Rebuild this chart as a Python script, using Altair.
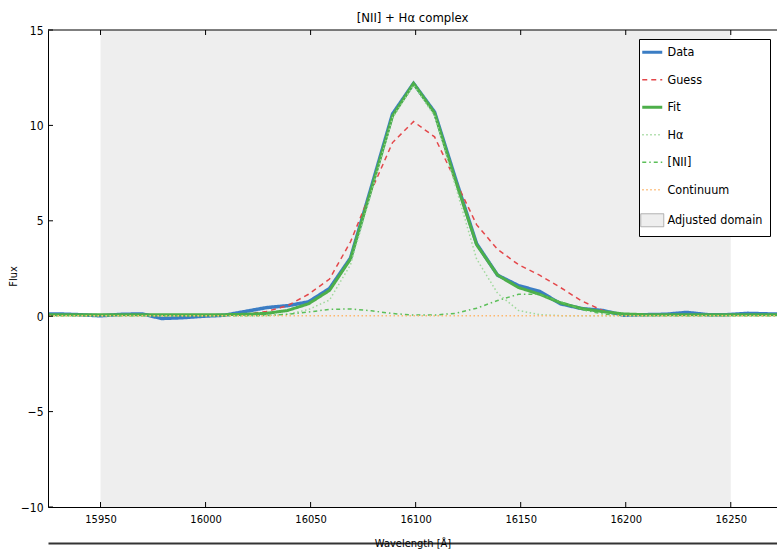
import altair as alt
import pandas as pd

# ---------------- data ----------------
wavelength = [15920, 15930, 15940, 15950, 15960, 15970, 15979, 15989, 15999, 16009,
              16019, 16029, 16039, 16049, 16059, 16069, 16079, 16089, 16099, 16109,
              16119, 16129, 16139, 16149, 16159, 16169, 16179, 16189, 16199, 16209,
              16219, 16229, 16239, 16248, 16258, 16268, 16278]

data_flux = [0.12, 0.12, 0.08, 0.02, 0.10, 0.12, -0.12, -0.08, 0.00, 0.05,
             0.25, 0.45, 0.55, 0.75, 1.45, 3.05, 6.80, 10.60, 12.20, 10.70,
             7.20, 3.80, 2.15, 1.60, 1.30, 0.65, 0.40, 0.30, 0.05, 0.08,
             0.10, 0.20, 0.08, 0.08, 0.15, 0.12, 0.10]

guess_flux = [0.05, 0.05, 0.05, 0.05, 0.05, 0.05, 0.05, 0.05, 0.05, 0.05,
              0.10, 0.25, 0.55, 1.15, 1.95, 3.90, 6.60, 9.10, 10.20, 9.40,
              7.10, 4.80, 3.50, 2.70, 2.15, 1.50, 0.80, 0.30, 0.08, 0.05,
              0.05, 0.05, 0.05, 0.05, 0.05, 0.05, 0.05]

fit_flux = [0.08, 0.08, 0.08, 0.08, 0.08, 0.08, 0.08, 0.08, 0.08, 0.08,
            0.10, 0.15, 0.30, 0.65, 1.35, 3.00, 6.70, 10.50, 12.20, 10.65,
            7.10, 3.75, 2.15, 1.50, 1.15, 0.70, 0.40, 0.24, 0.12, 0.08,
            0.08, 0.08, 0.08, 0.08, 0.08, 0.08, 0.08]

halpha_flux = [0.02, 0.02, 0.02, 0.02, 0.02, 0.02, 0.02, 0.02, 0.02, 0.02,
               0.02, 0.03, 0.10, 0.35, 0.85, 2.70, 6.50, 10.40, 12.10, 10.50,
               6.80, 3.00, 1.20, 0.30, 0.08, 0.03, 0.02, 0.02, 0.02, 0.02,
               0.02, 0.02, 0.02, 0.02, 0.02, 0.02, 0.02]

nii_flux = [0.02, 0.02, 0.02, 0.02, 0.02, 0.02, 0.02, 0.02, 0.02, 0.02,
            0.02, 0.04, 0.10, 0.22, 0.36, 0.38, 0.28, 0.14, 0.06, 0.06,
            0.15, 0.42, 0.82, 1.15, 1.15, 0.75, 0.35, 0.12, 0.04, 0.02,
            0.02, 0.02, 0.02, 0.02, 0.02, 0.02, 0.02]

continuum_wavelength = [15920, 16278]
continuum_flux = [0.02, 0.02]

adjusted_lo = [15950]
adjusted_hi = [16250]

series_names = ["Data", "Guess", "Fit", "Hα", "[NII]", "Continuum", "Adjusted domain"]
series_colors = ["#3b7dc4", "#e4474a", "#4daf4a", "#9fd89b", "#5cbf59", "#fdb870", "#aaaaaa"]

x_limits = [15925, 16272]
y_limits = [-10, 15]
x_ticks = [15950, 16000, 16050, 16100, 16150, 16200, 16250]
y_ticks = [-10, -5, 0, 5, 10, 15]

W, H = 729, 477
TICK_PX = 5

# ---------------- tables ----------------
rows = []
for name, vals in [("Data", data_flux), ("Guess", guess_flux), ("Fit", fit_flux),
                   ("Hα", halpha_flux), ("[NII]", nii_flux)]:
    for w, f in zip(wavelength, vals):
        rows.append({"series": name, "wavelength": w, "flux": f})
for w, f in zip(continuum_wavelength, continuum_flux):
    rows.append({"series": "Continuum", "wavelength": w, "flux": f})
df = pd.DataFrame(rows)

span_df = pd.DataFrame({"lo": adjusted_lo, "hi": adjusted_hi,
                        "ylo": [y_limits[0]], "yhi": [y_limits[1]]})

# tick length expressed in data units of each scale
ty = TICK_PX * (y_limits[1] - y_limits[0]) / H
tx = TICK_PX * (x_limits[1] - x_limits[0]) / W
xtick_rows = []
for t in x_ticks:
    xtick_rows.append({"x": t, "y1": y_limits[0], "y2": y_limits[0] + ty})
    xtick_rows.append({"x": t, "y1": y_limits[1], "y2": y_limits[1] - ty})
xtick_df = pd.DataFrame(xtick_rows)
ytick_df = pd.DataFrame({"y": y_ticks, "x1": [x_limits[0]] * len(y_ticks),
                         "x2": [x_limits[0] + tx] * len(y_ticks)})
top_df = pd.DataFrame({"x1": [x_limits[0]], "x2": [x_limits[1]], "y": [y_limits[1]]})

FONT = "DejaVu Sans Condensed, Liberation Sans Narrow, DejaVu Sans"

xscale = alt.Scale(domain=x_limits, nice=False, zero=False)
yscale = alt.Scale(domain=y_limits, nice=False, zero=False)
color_scale = alt.Scale(domain=series_names, range=series_colors)

is_rect = "datum.value === 'Adjusted domain'"
legend = alt.Legend(
    orient="none", legendX=591, legendY=9, title=None,
    symbolType={"expr": f"{is_rect} ? 'M-1.15,-0.65H1.15V0.65H-1.15Z' : 'stroke'"},
    symbolFillColor={"expr": f"{is_rect} ? '#eeeeee' : 'transparent'"},
    symbolStrokeWidth={"expr": f"(datum.value === 'Data' || datum.value === 'Fit') ? 3 : {is_rect} ? 1 : 1.5"},
    symbolDash={"expr": "datum.value === 'Guess' ? [5,4] : (datum.value === 'Hα' || datum.value === 'Continuum') ? [1.5,2.5] : datum.value === '[NII]' ? [4,3,1.5,3] : [1,0]"},
    symbolSize=400, symbolOpacity=1,
    labelFont=FONT, labelFontSize=12.5, labelColor="black", labelOffset=9,
    strokeColor="black", fillColor="white", padding=7, rowPadding=14.5,
    cornerRadius=0, zindex=2,
)

main_x = alt.Axis(orient="bottom", values=x_ticks, format="d", labelFont=FONT, labelFontSize=11,
                  labelColor="black", labelPadding=6, ticks=False, domain=True,
                  domainColor="black", domainWidth=1, grid=False, zindex=1,
                  title="Wavelength [Å]", titleFont=FONT, titleFontSize=11,
                  titleFontWeight="normal", titleColor="black", titleBaseline="middle", titleY=36)
main_y = alt.Axis(orient="left", values=y_ticks, format="d", labelFont=FONT, labelFontSize=12,
                  labelColor="black", labelPadding=5, ticks=False, domain=True,
                  domainColor="black", domainWidth=1, grid=False, zindex=1,
                  title="Flux", titleFont=FONT, titleFontSize=11, titleFontWeight="normal",
                  titleColor="black", titleX=-30, titleY=246)
strike = alt.Axis(orient="bottom", offset=36, values=x_ticks, labels=False, domain=True,
                  domainColor="#333333", domainWidth=2, ticks=False, grid=False, title=None)

span = alt.Chart(span_df).mark_rect(color="#eeeeee").encode(
    x=alt.X("lo:Q", scale=xscale, axis=main_x),
    x2="hi:Q",
    y=alt.Y("ylo:Q", scale=yscale, axis=main_y),
    y2="yhi:Q",
)

styles = {
    "Data": dict(strokeWidth=3.5, strokeDash=[1, 0]),
    "Guess": dict(strokeWidth=1.5, strokeDash=[5, 4]),
    "Fit": dict(strokeWidth=3, strokeDash=[1, 0]),
    "Hα": dict(strokeWidth=1.5, strokeDash=[1.5, 2.5]),
    "[NII]": dict(strokeWidth=1.5, strokeDash=[4, 3, 1.5, 3]),
    "Continuum": dict(strokeWidth=1.5, strokeDash=[1.5, 2.5]),
}

layers = [span]
for name in ["Data", "Guess", "Fit", "Hα", "[NII]", "Continuum"]:
    layers.append(
        alt.Chart(df).transform_filter(alt.datum.series == name)
        .mark_line(clip=True, **styles[name])
        .encode(
            x=alt.X("wavelength:Q", scale=xscale, axis=strike if name == "Fit" else None),
            y=alt.Y("flux:Q", scale=yscale, axis=None),
            color=alt.Color("series:N", scale=color_scale, legend=legend),
        )
    )

xticks_layer = alt.Chart(xtick_df).mark_rule(color="black", strokeWidth=1).encode(
    x=alt.X("x:Q", scale=xscale, axis=None),
    y=alt.Y("y1:Q", scale=yscale, axis=None),
    y2="y2:Q",
)
yticks_layer = alt.Chart(ytick_df).mark_rule(color="black", strokeWidth=1).encode(
    x=alt.X("x1:Q", scale=xscale, axis=None),
    x2="x2:Q",
    y=alt.Y("y:Q", scale=yscale, axis=None),
)
top_spine = alt.Chart(top_df).mark_rule(color="black", strokeWidth=1.2).encode(
    x=alt.X("x1:Q", scale=xscale, axis=None),
    x2="x2:Q",
    y=alt.Y("y:Q", scale=yscale, axis=None),
)
layers += [xticks_layer, yticks_layer, top_spine]

chart = (
    alt.layer(*layers)
    .resolve_axis(x="independent", y="independent")
    .properties(
        width=W, height=H,
        title=alt.TitleParams("[NII] + Hα complex", font=FONT, fontSize=13,
                              fontWeight="normal", color="black", offset=7, dy=8,
                              anchor="middle"),
        autosize=alt.AutoSizeParams(type="none"),
        padding={"left": 48, "top": 30, "right": 0, "bottom": 43},
        background="white",
    )
    .configure_view(stroke=None)
)

chart.save("out.html", embed_options={"renderer": "svg", "actions": False})
